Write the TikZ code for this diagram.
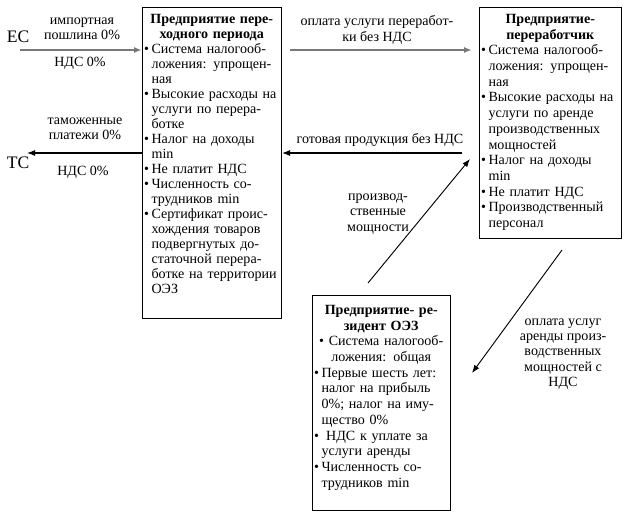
\documentclass[tikz,border=0pt]{standalone}
\usepackage{fontspec}
\setmainfont{Liberation Serif}
\usetikzlibrary{arrows.meta,positioning}
\tikzset{>={Latex[length=2.4mm,width=1.8mm]}}
\definecolor{flowgray}{rgb}{0.47,0.47,0.47}
\newcommand\pxl{0.03cm}
\newlength\bulind \setlength\bulind{0.22cm}
\newcommand\bul[1]{\par\noindent\hangindent=\bulind\hangafter=1\makebox[\bulind][l]{\textbullet}#1\par}

\begin{document}
\begin{tikzpicture}[x=0.03cm,y=-0.03cm,
    firm/.style={draw,line width=0.9pt,inner sep=0pt,anchor=north west},
    firmtext/.style={inner sep=0pt,anchor=north west,align=left,font=\fontsize{12}{13.4}\selectfont},
    lbl/.style={inner sep=0pt,align=center,font=\fontsize{12}{13}\selectfont},
    grayflow/.style={->,draw=flowgray,line width=1.5pt},
    flow/.style={->,line width=0.9pt},
    thinflow/.style={->,line width=0.8pt}]
  \useasboundingbox (0,0) rectangle (625,515);
  \def\wa{139}  % width of transit box
  \def\wb{142}  % width of processor box
  \def\wc{138}  % width of resident box
  % firms
  \node[firm,minimum width=\wa*\pxl,minimum height=311*\pxl] (trans) at (142,7) {};
  \node[firm,minimum width=\wb*\pxl,minimum height=231*\pxl] (proc) at (479,7) {};
  \node[firm,minimum width=\wc*\pxl,minimum height=215*\pxl] (res) at (312,295) {};
  \node[firmtext,font=\fontsize{12}{12.8}\selectfont,text width=(\wa-4)*\pxl] (transtxt) at ([shift={(2,7)}]trans.north west) {%
    {\centering\bfseries Предприятие пере-\par ходного периода\par}
    \bul{Система налогооб-\newline ложения: упрощен-\newline ная}
    \bul{Высокие расходы на\newline услуги по перера-\newline ботке}
    \bul{Налог на доходы\newline min}
    \bul{Не платит НДС}
    \bul{Численность со-\newline трудников min}
    \bul{Сертификат проис-\newline хождения товаров\newline подвергнутых до-\newline статочной перера-\newline ботке на территории\newline ОЭЗ}};
  \node[firmtext,text width=(\wb-4)*\pxl] (proctxt) at ([shift={(2,7)}]proc.north west) {%
    {\centering\bfseries Предприятие-\par переработчик\par}
    \bul{Система налогооб-\newline ложения: упрощен-\newline ная}
    \bul{Высокие расходы на\newline услуги по аренде\newline производственных\newline мощностей}
    \bul{Налог на доходы\newline min}
    \bul{Не платит НДС}
    \bul{Производственный\newline персонал}};
  \node[firmtext,text width=(\wc-4)*\pxl] (restxt) at ([shift={(2,10)}]res.north west) {%
    {\centering\bfseries Предприятие- ре-\par зидент ОЭЗ\par}
    {\centering\textbullet\ Система налогооб-\par ложения: общая\par}
    \bul{Первые шесть лет:\newline налог на прибыль\newline 0\%; налог на иму-\newline щество 0\%}
    \bul{\ НДС к уплате за\newline услуги аренды}
    \bul{Численность со-\newline трудников min}};
  % outer parties
  \node[inner sep=0pt,font=\fontsize{15}{18}\selectfont] (eu) at (18,37) {ЕС};
  \node[inner sep=0pt,font=\fontsize{15}{18}\selectfont] (cu) at (18,163) {ТС};
  \coordinate (es) at (20,50);
  \coordinate (ts) at (27,153);
  \coordinate (payA) at (290,50);
  \coordinate (payB) at (472,50);
  \coordinate (goodsA) at (462,153);
  \coordinate (capA) at (368,283);
  \coordinate (capB) at (470,159);
  \coordinate (rentA) at (562,250);
  \coordinate (rentB) at (472,373);
  % flows
  \draw[grayflow] (es) -- (es -| trans.west);
  \draw[flow] (trans.west |- ts) -- (ts);
  \draw[grayflow] (payA) -- (payB);
  \draw[flow] (goodsA) -- (goodsA -| trans.east);
  \draw[thinflow] (capA) -- (capB);
  \draw[thinflow] (rentA) -- (rentB);
  % labels
  \node[lbl] (duty) at (82,29) {импортная\\пошлина 0\%};
  \node[lbl] (vatin) at (80,63) {НДС 0\%};
  \node[lbl] (cust) at (85,129) {таможенные\\платежи 0\%};
  \node[lbl] (vatout) at (83,172) {НДС 0\%};
  \node[lbl] (pay) at (377,30) {оплата услуги переработ-\\ки без НДС};
  \node[lbl] (goods) at (380,140) {готовая продукция без НДС};
  \node[lbl] (cap) at (378,214) {производ-\\ственные\\мощности};
  \node[lbl] (rent) at (563,354) {оплата услуг\\аренды произ-\\водственных\\мощностей с\\НДС};
\end{tikzpicture}
\end{document}
